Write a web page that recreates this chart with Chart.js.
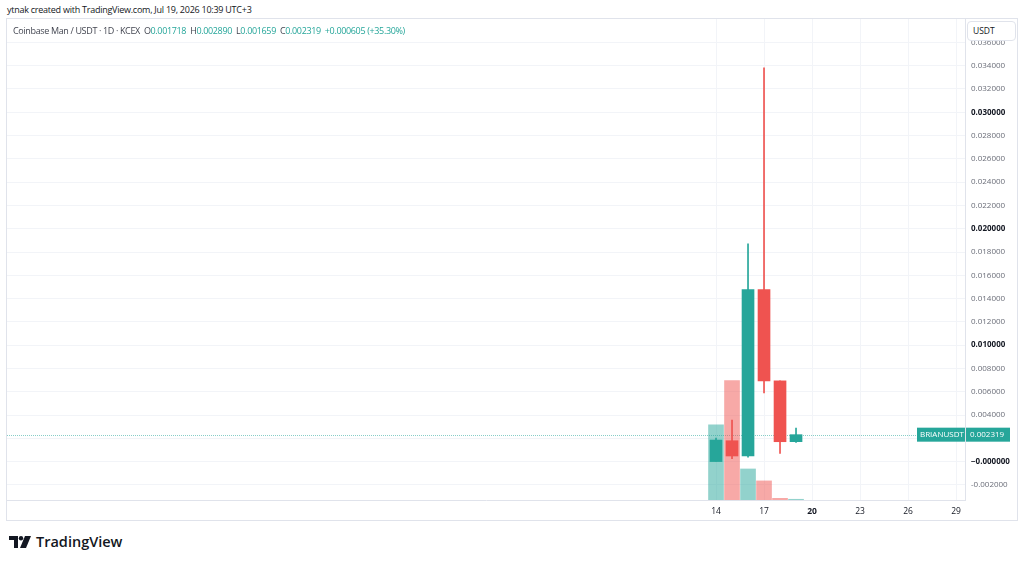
<!DOCTYPE html>
<html>
<head>
<meta charset="utf-8">
<script src="https://cdn.jsdelivr.net/npm/chart.js@4/dist/chart.umd.min.js"></script>
<style>
  body { margin: 0; background: #fff; font-family: "Open Sans", "DejaVu Sans", sans-serif; width: 1024px; height: 563px; overflow: hidden; position: relative; }
  #credit { position: absolute; left: 7px; top: 3px; font-size: 9px; letter-spacing: -0.25px; color: #131722; white-space: nowrap; }
  #frame { position: absolute; left: 6px; top: 18px; width: 1010px; height: 501px; border: 1px solid #e0e3eb; }
  #wrap { position: absolute; left: 7px; top: 19px; width: 1010px; height: 501px; }
  #legend { position: absolute; left: 13px; top: 24px; font-size: 9px; letter-spacing: -0.35px; color: #434651; white-space: nowrap; z-index: 2; }
  #legend .v { color: #26a69a; }
  #unit { position: absolute; left: 967px; top: 21px; width: 42px; height: 18px; border: 1px solid #e0e3eb; border-radius: 4px; background: #fff; font-size: 8.5px; color: #131722; line-height: 18px; padding-left: 5px; box-sizing: content-box; z-index: 2; }
  #logo { position: absolute; left: 9px; top: 532px; display: flex; align-items: center; gap: 5px; font-size: 14.5px; font-weight: 600; color: #131722; }
</style>
</head>
<body>
<div id="credit">ytnak created with TradingView.com, Jul 19, 2026 10:39 UTC+3</div>
<div id="frame"></div>
<div id="wrap"><canvas id="c" width="1010" height="501"></canvas></div>
<div id="legend">Coinbase Man / USDT · 1D · KCEX &nbsp;O<span class="v">0.001718</span> &nbsp;H<span class="v">0.002890</span> &nbsp;L<span class="v">0.001659</span> &nbsp;C<span class="v">0.002319</span> &nbsp;<span class="v">+0.000605 (+35.30%)</span></div>
<div id="unit">USDT</div>
<div id="logo">
  <svg width="22" height="12" viewBox="0 0 22 12">
    <path d="M0 0h9v12H5V4H0z" fill="#131722"/>
    <circle cx="12" cy="2.2" r="2.2" fill="#131722"/>
    <path d="M16 0h6l-5 12h-6z" fill="#131722"/>
  </svg>
  <span>TradingView</span>
</div>
<script>
// July 2026, daily candles
const days = [14, 15, 16, 17, 18, 19];
const opens = [0.00001, 0.00180, 0.00049, 0.01477, 0.00694, 0.001718];
const highs = [0.00203, 0.00357, 0.01871, 0.03382, 0.00694, 0.002890];
const lows = [0.00000, 0.00026, 0.00038, 0.00591, 0.00072, 0.001659];
const closes = [0.00186, 0.00049, 0.01477, 0.00694, 0.001714, 0.002319];
const volumes = [6.3, 10.0, 2.6, 1.6, 0.14, 0.06];

const dayTicks = [14, 17, 20, 23, 26, 29];
const priceTicks = [-0.002, 0, 0.002, 0.004, 0.006, 0.008, 0.010, 0.012, 0.014, 0.016, 0.018,
  0.020, 0.022, 0.024, 0.026, 0.028, 0.030, 0.032, 0.034, 0.036];
const boldPrices = [0, 0.010, 0.020, 0.030];
const lastPrice = 0.002319;
const symbol = 'BRIANUSDT';

const UP = '#26a69a', DOWN = '#ef5350';
const FONT = '"Open Sans", "DejaVu Sans", sans-serif';

const isUp = i => closes[i] >= opens[i];
const isBold = c => !!c.tick && boldPrices.some(b => Math.abs(b - c.tick.value) < 1e-9);
const noPad = s => { s.paddingTop = 0; s.paddingBottom = 0; s.paddingLeft = 0; s.paddingRight = 0; };

Chart.defaults.font.family = FONT;

const lastPricePlugin = {
  id: 'lastPrice',
  beforeDatasetsDraw(chart) {
    const ctx = chart.ctx, a = chart.chartArea;
    const y = Math.round(chart.scales.y.getPixelForValue(lastPrice)) + 0.5;
    ctx.save();
    ctx.strokeStyle = 'rgba(38,166,154,0.55)';
    ctx.lineWidth = 1;
    ctx.setLineDash([1, 1]);
    ctx.beginPath();
    ctx.moveTo(a.left, y);
    ctx.lineTo(a.right, y);
    ctx.stroke();
    ctx.restore();
  },
  afterDraw(chart) {
    const ctx = chart.ctx, a = chart.chartArea;
    const y = chart.scales.y.getPixelForValue(lastPrice);
    ctx.save();
    ctx.fillStyle = UP;
    ctx.fillRect(a.right - 48, y - 7, 48, 14);
    ctx.fillRect(a.right + 1, y - 7, 44, 14);
    ctx.fillStyle = '#fff';
    ctx.font = '8px ' + FONT;
    ctx.textBaseline = 'middle';
    ctx.textAlign = 'left';
    ctx.fillText(symbol, a.right - 45, y);
    ctx.fillText(lastPrice.toFixed(6), a.right + 5, y);
    ctx.restore();
  }
};

new Chart(document.getElementById('c'), {
  type: 'bar',
  data: {
    datasets: [
      {
        label: 'Volume',
        yAxisID: 'yv',
        data: days.map((d, i) => ({ x: d, y: volumes[i] })),
        backgroundColor: days.map((d, i) => isUp(i) ? 'rgba(38,166,154,0.5)' : 'rgba(239,83,80,0.5)'),
        barThickness: 15,
        grouped: false,
        order: 3
      },
      {
        label: 'Wick',
        yAxisID: 'y',
        data: days.map((d, i) => ({ x: d, y: [lows[i], highs[i]] })),
        backgroundColor: days.map((d, i) => isUp(i) ? UP : DOWN),
        barThickness: 1,
        grouped: false,
        order: 2
      },
      {
        label: 'Body',
        yAxisID: 'y',
        data: days.map((d, i) => ({ x: d, y: [opens[i], closes[i]] })),
        backgroundColor: days.map((d, i) => isUp(i) ? UP : DOWN),
        barThickness: 12,
        grouped: false,
        order: 1
      }
    ]
  },
  options: {
    responsive: false,
    animation: false,
    layout: { padding: 0 },
    plugins: { legend: { display: false }, tooltip: { enabled: false } },
    scales: {
      x: {
        type: 'linear',
        offset: false,
        min: -30.31,
        max: 29.56,
        afterBuildTicks: s => { s.ticks = dayTicks.map(v => ({ value: v })); },
        afterFit: s => { s.height = 20; noPad(s); },
        grid: { color: '#f2f4f8', drawTicks: false, offset: false },
        border: { color: '#e0e3eb' },
        ticks: {
          padding: 6,
          maxRotation: 0,
          autoSkip: false,
          color: '#131722',
          font: c => ({ size: 8.5, weight: c.tick && c.tick.value === 20 ? 'bold' : 'normal' }),
          callback: v => String(v)
        }
      },
      y: {
        position: 'right',
        min: -0.00329,
        max: 0.03801,
        afterBuildTicks: s => { s.ticks = priceTicks.map(v => ({ value: v })); },
        afterFit: s => { s.width = 52; noPad(s); },
        grid: { color: '#f2f4f8', drawTicks: false },
        border: { color: '#e0e3eb' },
        ticks: {
          padding: 6,
          autoSkip: false,
          color: c => isBold(c) ? '#131722' : '#6a6d78',
          font: c => ({ size: 8, weight: isBold(c) ? 'bold' : 'normal' }),
          callback: v => Math.abs(v) < 1e-9 ? '\u22120.000000' : v.toFixed(6)
        }
      },
      yv: { display: false, min: 0, max: 40.3, afterFit: noPad }
    }
  },
  plugins: [lastPricePlugin]
});
</script>
</body>
</html>
